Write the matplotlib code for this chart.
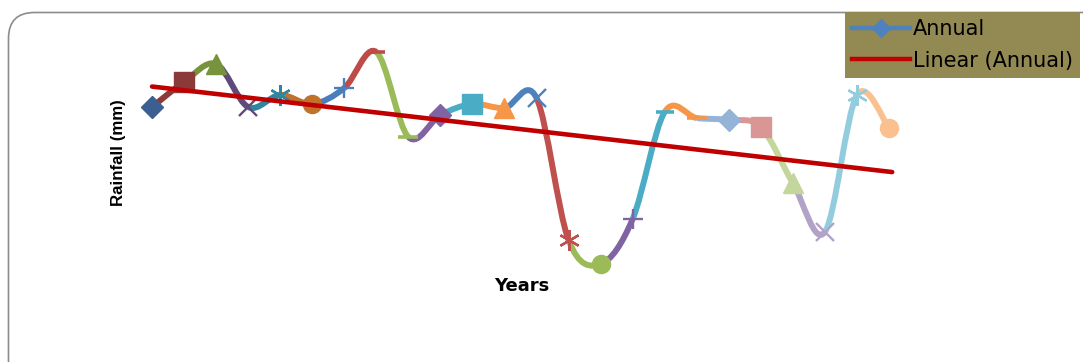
import numpy as np
import matplotlib
matplotlib.use("Agg")
import matplotlib.pyplot as plt
from matplotlib.path import Path
from matplotlib.patches import PathPatch, FancyBboxPatch
from matplotlib.lines import Line2D

# ---- data (rainfall, mm, no axis scale shown) ----
years = list(range(1, 25))
rainfall = [1172, 1272, 1344, 1172, 1220, 1184, 1248, 1392, 1052, 1140, 1184, 1168,
            1208, 640, 544, 724, 1152, 1128, 1120, 1092, 868, 672, 1220, 1088]
point_colors = ["#3C5F91", "#8B3A3A", "#77933C", "#604A7B", "#31859C", "#C0722A",
                "#4A7EBB", "#BE4B48", "#9BBB59", "#8064A2", "#4BACC6", "#F79646",
                "#4F81BD", "#C0504D", "#9BBB59", "#8064A2", "#4BACC6", "#F79646",
                "#95B3D7", "#D99694", "#C3D69B", "#B3A2C7", "#93CDDD", "#FAC090"]
point_markers = ["D", "s", "^", "x", "star", "o", "+", "longdash", "dash",
                 "D", "s", "^", "x", "star", "o", "+", "longdash", "dash",
                 "D", "s", "^", "x", "star", "o"]

W, H = 1083, 362
fig = plt.figure(figsize=(W / 100, H / 100), dpi=100)
fig.patch.set_facecolor("white")

# background axes in pixel units for the chart border
bg = fig.add_axes([0, 0, 1, 1], zorder=0)
bg.set_xlim(0, W)
bg.set_ylim(H, 0)
bg.axis("off")
bg.add_patch(FancyBboxPatch((8.5, 12.5), W + 60, H + 20,
                            boxstyle="round,pad=0,rounding_size=26",
                            facecolor="white", edgecolor="#8C8C8C", linewidth=1.2))

ax = fig.add_axes([136 / W, (H - 280) / H, (905 - 136) / W, 240 / H], zorder=1)
ax.set_xlim(0.5, 24.5)
ax.set_ylim(480, 1440)
ax.axis("off")
ax.patch.set_alpha(0)

x = np.array(years, dtype=float)
y = np.array(rainfall, dtype=float)
n = len(x)

# smoothed line (Catmull-Rom style bezier), each segment coloured by its end point
for i in range(n - 1):
    p0 = np.array([x[max(i - 1, 0)], y[max(i - 1, 0)]])
    p1 = np.array([x[i], y[i]])
    p2 = np.array([x[i + 1], y[i + 1]])
    p3 = np.array([x[min(i + 2, n - 1)], y[min(i + 2, n - 1)]])
    c1 = p1 + (p2 - p0) / 6.0
    c2 = p2 - (p3 - p1) / 6.0
    path = Path([p1, c1, c2, p2], [Path.MOVETO, Path.CURVE4, Path.CURVE4, Path.CURVE4])
    ax.add_patch(PathPatch(path, facecolor="none", edgecolor=point_colors[i + 1],
                           linewidth=4.3, capstyle="butt", zorder=2))

# markers
marker_style = {
    "D": dict(marker="D", ms=11, mew=1),
    "s": dict(marker="s", ms=14, mew=1),
    "^": dict(marker="^", ms=14, mew=1),
    "o": dict(marker="o", ms=13, mew=1),
    "x": dict(marker="x", ms=13, mew=1.7),
    "+": dict(marker="+", ms=15, mew=1.7),
    "star": dict(marker=(6, 2, 0), ms=15, mew=1.7),
    "longdash": dict(marker="_", ms=13, mew=2.6),
    "dash": dict(marker="_", ms=14, mew=2.6),
}
for xi, yi, c, m in zip(x, y, point_colors, point_markers):
    st = marker_style[m]
    ax.plot([xi], [yi], marker=st["marker"], color=c, markersize=st["ms"],
            markeredgewidth=st["mew"], markeredgecolor=c, linestyle="none", zorder=3)

# linear trend line
slope, intercept = np.polyfit(x, y, 1)
ax.plot([x[0], x[-1] + 0.1], [slope * x[0] + intercept, slope * (x[-1] + 0.1) + intercept],
        color="#C00000", linewidth=3.3, zorder=4, solid_capstyle="round")

# axis titles
fig.text(118 / W, 1 - 153 / H, "Rainfall (mm)", rotation=90, ha="center", va="center",
         fontsize=12.2, fontweight="bold", family=["Liberation Sans Narrow", "Liberation Sans"],
         zorder=2)
fig.text(522 / W, 1 - 286 / H, "Years", ha="center", va="center",
         fontsize=13, fontweight="bold", family="DejaVu Sans", zorder=2)

# legend
handles = [Line2D([], [], color="#4F81BD", linewidth=3.2, marker="D", markersize=9),
           Line2D([], [], color="#C00000", linewidth=3.2)]
leg = fig.legend(handles, ["Annual", "Linear (Annual)"], loc="upper left",
                 bbox_to_anchor=(845 / W, 1 - 12 / H), frameon=True, fancybox=False,
                 facecolor="#938953", edgecolor="#938953", framealpha=1,
                 prop={"family": "DejaVu Sans", "size": 15},
                 handlelength=2.75, handletextpad=0.15, borderpad=0.35,
                 labelspacing=0.55, borderaxespad=0, handleheight=0.7)
leg.get_frame().set_linewidth(0)
leg.set_zorder(5)

fig.savefig("out.png", dpi=100, facecolor="white")
